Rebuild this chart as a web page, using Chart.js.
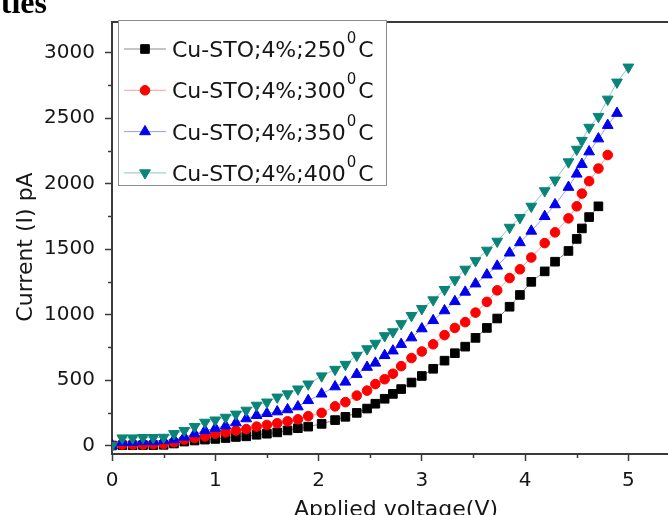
<!DOCTYPE html>
<html><head><meta charset="utf-8">
<script src="https://cdn.jsdelivr.net/npm/chart.js@4.4.1/dist/chart.umd.min.js"></script>
<style>
html,body{margin:0;padding:0;background:#fff;overflow:hidden;}
#wrap{position:relative;width:668px;height:515px;overflow:hidden;background:#fff;}
#c{position:absolute;left:0;top:0;}
</style></head><body>
<div id="wrap"><canvas id="c" width="700" height="525"></canvas></div>
<script>
// ---- data ----
const voltage = [0, 0.1, 0.2, 0.3, 0.4, 0.5, 0.6, 0.7, 0.8, 0.9, 1.0, 1.1, 1.2, 1.3, 1.4, 1.5, 1.6, 1.7, 1.8, 1.9,
  2.03, 2.16, 2.26, 2.37, 2.47, 2.55, 2.64, 2.72, 2.80, 2.90, 3.0,
  3.11, 3.22, 3.32, 3.42, 3.52, 3.63, 3.73, 3.85, 3.95,
  4.06, 4.19, 4.29, 4.42, 4.50, 4.55, 4.62, 4.71, 4.80, 4.89, 5.0];
const current250 = [0, 2, 2, 3, 3, 5, 15, 30, 38, 45, 50, 57, 65, 70, 82, 90, 100, 115, 132, 144,
  165, 194, 219, 249, 282, 319, 357, 394, 431, 481, 531,
  586, 648, 705, 755, 822, 898, 970, 1060, 1150,
  1250, 1330, 1404, 1486, 1578, 1658, 1745, 1827];
const current300 = [0, 7, 7, 7, 10, 12, 25, 45, 57, 70, 90, 100, 114, 125, 144, 157, 170, 185, 200, 224,
  249, 299, 331, 381, 419, 469, 506, 548, 606, 668, 718,
  773, 843, 898, 942, 1015, 1097, 1185, 1279, 1346,
  1436, 1546, 1628, 1735, 1827, 1924, 2019, 2116, 2219];
const current350 = [0, 25, 25, 30, 30, 38, 45, 65, 90, 114, 132, 150, 174, 205, 230, 245, 258, 274, 296, 344,
  394, 449, 485, 544, 598, 630, 688, 723, 773, 823, 892,
  955, 1030, 1100, 1172, 1235, 1304, 1371, 1471, 1550,
  1638, 1750, 1840, 1973, 2074, 2148, 2244, 2343, 2446, 2538];
const current400 = [0, 57, 57, 60, 60, 62, 90, 114, 144, 177, 194, 215, 239, 269, 307, 331, 369, 394, 431, 469,
  531, 581, 619, 688, 738, 780, 838, 868, 930, 992, 1045,
  1112, 1191, 1265, 1346, 1411, 1491, 1560, 1666, 1740,
  1827, 1945, 2027, 2166, 2262, 2330, 2430, 2513, 2645, 2775, 2890];
const seriesLabels = ['Cu-STO;4%;250⁰C', 'Cu-STO;4%;300⁰C', 'Cu-STO;4%;350⁰C', 'Cu-STO;4%;400⁰C'];
const xTicks = [0, 1, 2, 3, 4, 5];
const yTicks = [0, 500, 1000, 1500, 2000, 2500, 3000];
const xTitle = 'Applied voltage(V)';
const yTitle = 'Current (I) pA';
const captionFragment = 'ties';

// ---- styling ----
const FONT = '"DejaVu Sans", "Liberation Sans", sans-serif';
const axisColor = '#3a3a3a';
const textColor = '#161616';

function pts(vals) { return vals.map((v, i) => ({x: voltage[i], y: v})); }

const styles = [
  {pointStyle: 'rect', r: 6.1, rot: 0, c: '#000000', line: 'rgba(0,0,0,0.45)'},
  {pointStyle: 'circle', r: 4.8, rot: 0, c: '#ff0000', line: 'rgba(255,0,0,0.40)'},
  {pointStyle: 'triangle', r: 6.2, rot: 0, c: '#0000ee', line: 'rgba(0,0,255,0.40)'},
  {pointStyle: 'triangle', r: 6.2, rot: 180, c: '#0a8478', line: 'rgba(0,128,120,0.45)'}
];
const seriesValues = [current250, current300, current350, current400];

const datasets = seriesValues.map((vals, i) => ({
  label: seriesLabels[i],
  data: pts(vals),
  borderColor: styles[i].line,
  borderWidth: 1,
  pointStyle: styles[i].pointStyle,
  pointRadius: styles[i].r,
  pointRotation: styles[i].rot,
  pointBackgroundColor: styles[i].c,
  pointBorderColor: styles[i].c,
  pointBorderWidth: 1,
  showLine: true,
  fill: false,
  tension: 0,
  order: 4 - i
}));

function drawMarker(ctx, ds, x, y) {
  ctx.fillStyle = ds.pointBackgroundColor;
  ctx.strokeStyle = ds.pointBorderColor;
  ctx.lineWidth = ds.pointBorderWidth;
  if (Chart.helpers && Chart.helpers.drawPoint) {
    Chart.helpers.drawPoint(ctx, {pointStyle: ds.pointStyle, radius: ds.pointRadius,
      rotation: ds.pointRotation || 0, borderWidth: ds.pointBorderWidth}, x, y);
  }
}

const decorPlugin = {
  id: 'decor',
  afterDraw(chart) {
    const {ctx, chartArea: a, scales: {x, y}} = chart;
    ctx.save();
    // box frame (top & right)
    ctx.strokeStyle = axisColor;
    ctx.lineWidth = 2;
    ctx.beginPath();
    ctx.moveTo(a.left - 1, a.top);
    ctx.lineTo(a.right, a.top);
    ctx.lineTo(a.right, a.bottom);
    ctx.stroke();
    // minor ticks
    ctx.lineWidth = 1.5;
    const xs = (xTicks[1] - xTicks[0]) / 2;
    xTicks.forEach(t => {
      const v = t + xs;
      if (v < x.max) {
        const px = Math.round(x.getPixelForValue(v)) + 0.5;
        ctx.beginPath(); ctx.moveTo(px, a.bottom); ctx.lineTo(px, a.bottom + 4); ctx.stroke();
      }
    });
    const ys = (yTicks[1] - yTicks[0]) / 2;
    yTicks.forEach(t => {
      const v = t + ys;
      if (v < y.max) {
        const py = Math.round(y.getPixelForValue(v)) + 0.5;
        ctx.beginPath(); ctx.moveTo(a.left, py); ctx.lineTo(a.left - 4, py); ctx.stroke();
      }
    });
    // y axis title
    ctx.fillStyle = textColor;
    ctx.font = '22px ' + FONT;
    ctx.textAlign = 'center';
    ctx.textBaseline = 'middle';
    ctx.translate(26, 247);
    ctx.rotate(-Math.PI / 2);
    ctx.fillText(yTitle, 0, 0);
    ctx.setTransform(1, 0, 0, 1, 0, 0);
    // caption fragment
    ctx.font = 'bold 32px "Liberation Serif", "Times New Roman", serif';
    ctx.textAlign = 'right';
    ctx.textBaseline = 'alphabetic';
    ctx.fillStyle = '#000';
    ctx.fillText(captionFragment, 47, 13);
    // legend box
    const lx = 118, ly = 20, lw = 268, lh = 165;
    ctx.fillStyle = '#fff';
    ctx.fillRect(lx, ly, lw, lh);
    ctx.strokeStyle = '#8c8c8c';
    ctx.lineWidth = 1;
    ctx.strokeRect(lx + 0.5, ly + 0.5, lw, lh);
    chart.data.datasets.forEach((ds, i) => {
      const cy = 49 + i * 41.3;
      ctx.strokeStyle = ds.borderColor;
      ctx.lineWidth = 1;
      ctx.beginPath(); ctx.moveTo(124, cy); ctx.lineTo(166, cy); ctx.stroke();
      drawMarker(ctx, ds, 145, cy);
      const parts = ds.label.split('⁰');
      ctx.fillStyle = textColor;
      ctx.textAlign = 'left';
      ctx.textBaseline = 'alphabetic';
      ctx.font = '22px ' + FONT;
      let tx = 172;
      ctx.fillText(parts[0], tx, cy + 8);
      tx += ctx.measureText(parts[0]).width + 1;
      ctx.font = '15px ' + FONT;
      ctx.fillText('0', tx, cy - 6);
      tx += ctx.measureText('0').width + 2;
      ctx.font = '22px ' + FONT;
      ctx.fillText(parts[1] || '', tx, cy + 8);
    });
    ctx.restore();
  }
};

Chart.defaults.font.family = FONT;
Chart.defaults.color = textColor;

new Chart(document.getElementById('c'), {
  type: 'scatter',
  data: {datasets},
  options: {
    responsive: false,
    animation: false,
    devicePixelRatio: 1,
    layout: {padding: {left: 0, top: 13, right: 20, bottom: 0}},
    plugins: {legend: {display: false}, tooltip: {enabled: false}},
    scales: {
      x: {
        type: 'linear', position: 'bottom', min: 0, max: 5.5,
        afterBuildTicks: s => { s.ticks = xTicks.map(v => ({value: v})); },
        afterFit: s => { s.height = 71; },
        ticks: {font: {size: 20}, color: textColor, padding: 8, maxRotation: 0, autoSkip: false,
          callback: v => String(v)},
        grid: {drawOnChartArea: false, drawTicks: true, tickLength: 7, color: axisColor, tickWidth: 1.5},
        border: {display: true, color: axisColor, width: 2},
        title: {display: true, text: xTitle, font: {size: 22}, color: textColor, padding: {top: 0, bottom: 2}}
      },
      y: {
        type: 'linear', position: 'left', min: -65, max: 3235,
        afterBuildTicks: s => { s.ticks = yTicks.map(v => ({value: v})); },
        afterFit: s => { s.width = 112; },
        ticks: {font: {size: 20}, color: textColor, padding: 10, callback: v => String(v)},
        grid: {drawOnChartArea: false, drawTicks: true, tickLength: 7, color: axisColor, tickWidth: 1.5},
        border: {display: true, color: axisColor, width: 2},
        title: {display: false}
      }
    }
  },
  plugins: [decorPlugin]
});
</script>
</body></html>
